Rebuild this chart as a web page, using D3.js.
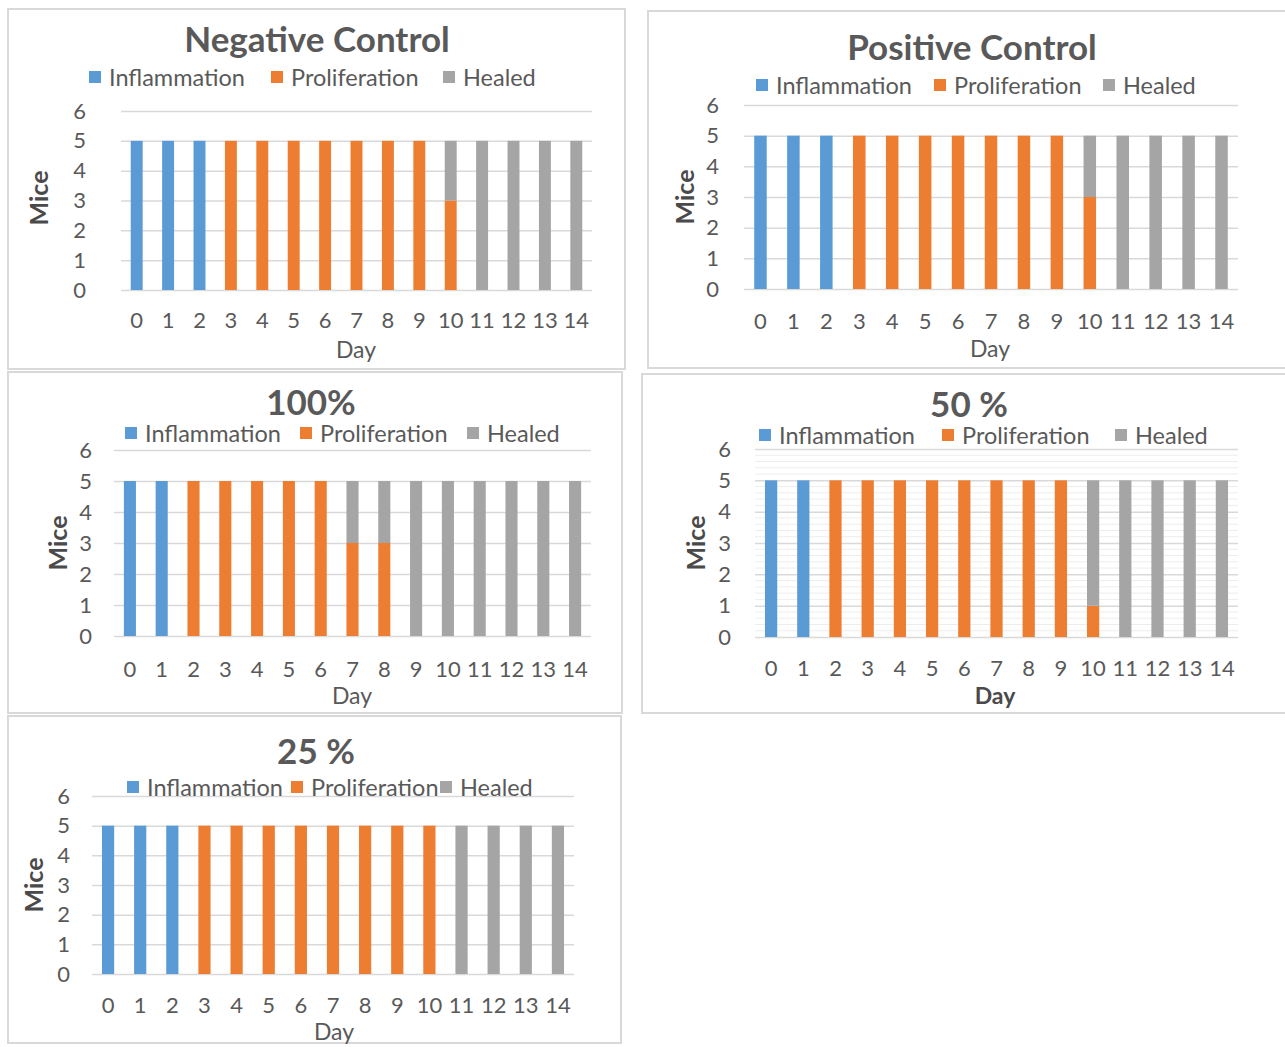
<!DOCTYPE html>
<html>
<head>
<meta charset="utf-8">
<script src="https://cdn.jsdelivr.net/npm/d3@7"></script>
<style>
  html, body { margin: 0; padding: 0; background: #ffffff; }
  svg { display: block; }
  text { font-family: Lato, "Open Sans", sans-serif; fill: #595959; }
</style>
</head>
<body>
<svg id="chart" width="1285" height="1047"></svg>
<script>
// ---------- DATA ----------
const days = ["0","1","2","3","4","5","6","7","8","9","10","11","12","13","14"];
const seriesNames = ["Inflammation", "Proliferation", "Healed"];
const yTicks = [0, 1, 2, 3, 4, 5, 6];

const negTitle = "Negative Control";
const negInflammation  = [5,5,5,0,0,0,0,0,0,0,0,0,0,0,0];
const negProliferation = [0,0,0,5,5,5,5,5,5,5,3,0,0,0,0];
const negHealed        = [0,0,0,0,0,0,0,0,0,0,2,5,5,5,5];

const posTitle = "Positive Control";
const posInflammation  = [5,5,5,0,0,0,0,0,0,0,0,0,0,0,0];
const posProliferation = [0,0,0,5,5,5,5,5,5,5,3,0,0,0,0];
const posHealed        = [0,0,0,0,0,0,0,0,0,0,2,5,5,5,5];

const p100Title = "100%";
const p100Inflammation  = [5,5,0,0,0,0,0,0,0,0,0,0,0,0,0];
const p100Proliferation = [0,0,5,5,5,5,5,3,3,0,0,0,0,0,0];
const p100Healed        = [0,0,0,0,0,0,0,2,2,5,5,5,5,5,5];

const p50Title = "50 %";
const p50Inflammation  = [5,5,0,0,0,0,0,0,0,0,0,0,0,0,0];
const p50Proliferation = [0,0,5,5,5,5,5,5,5,5,1,0,0,0,0];
const p50Healed        = [0,0,0,0,0,0,0,0,0,0,4,5,5,5,5];

const p25Title = "25 %";
const p25Inflammation  = [5,5,5,0,0,0,0,0,0,0,0,0,0,0,0];
const p25Proliferation = [0,0,0,5,5,5,5,5,5,5,5,0,0,0,0];
const p25Healed        = [0,0,0,0,0,0,0,0,0,0,0,5,5,5,5];

// ---------- STYLE / LAYOUT ----------
const colors = ["#5B9BD5", "#ED7D31", "#A5A5A5"];

const panels = [
  { title: negTitle, series: [negInflammation, negProliferation, negHealed],
    box: [8, 9, 625, 369], plot: [121, 592, 111, 290], titleXY: [317, 38],
    legendY: 77, legendX: [95, 277, 449], miceXY: [38, 198], dayXY: [356, 349],
    yPad: 35, xPad: 30, boldAxis: false, minor: false },
  { title: posTitle, series: [posInflammation, posProliferation, posHealed],
    box: [648, 11, 1286, 368], plot: [744, 1238, 105, 289], titleXY: [972, 46],
    legendY: 85, legendX: [762, 940, 1109], miceXY: [684, 197], dayXY: [990, 348],
    yPad: 25, xPad: 32, boldAxis: false, minor: false },
  { title: p100Title, series: [p100Inflammation, p100Proliferation, p100Healed],
    box: [8, 372, 622, 713], plot: [114, 591, 450, 636], titleXY: [311, 401],
    legendY: 433, legendX: [131, 306, 473], miceXY: [57, 543], dayXY: [352, 695],
    yPad: 22, xPad: 33, boldAxis: false, minor: false },
  { title: p50Title, series: [p50Inflammation, p50Proliferation, p50Healed],
    box: [642, 374, 1286, 713], plot: [755, 1238, 449, 637], titleXY: [969, 403],
    legendY: 435, legendX: [765, 948, 1121], miceXY: [695, 543], dayXY: [995, 695],
    yPad: 24, xPad: 31, boldAxis: true, minor: true },
  { title: p25Title, series: [p25Inflammation, p25Proliferation, p25Healed],
    box: [8, 716, 621, 1043], plot: [92, 574, 796, 974], titleXY: [316, 750],
    legendY: 787, legendX: [133, 297, 446], miceXY: [33, 885], dayXY: [334, 1031],
    yPad: 22, xPad: 31, boldAxis: false, minor: false }
];

const svg = d3.select("#chart");

panels.forEach(p => {
  const g = svg.append("g");
  const [bx0, by0, bx1, by1] = p.box;
  g.append("rect")
    .attr("x", bx0).attr("y", by0)
    .attr("width", bx1 - bx0).attr("height", by1 - by0)
    .attr("fill", "#ffffff").attr("stroke", "#D9D9D9").attr("stroke-width", 2);

  const [px0, px1, py0, py1] = p.plot;
  const x = d3.scaleBand().domain(days).range([px0, px1])
    .paddingInner(0.62).paddingOuter(0.31);
  const y = d3.scaleLinear().domain([0, 6]).range([py1, py0]);

  // minor gridlines
  if (p.minor) {
    const minorTicks = d3.range(0, 6.001, 0.2).filter(v => Math.abs(v - Math.round(v)) > 0.01);
    g.append("g").selectAll("line").data(minorTicks).join("line")
      .attr("x1", px0).attr("x2", px1)
      .attr("y1", d => y(d)).attr("y2", d => y(d))
      .attr("stroke", "#EDEDED").attr("stroke-width", 1);
  }

  // y axis with gridlines
  const yAxis = g.append("g").attr("transform", `translate(${px0},0)`)
    .call(d3.axisLeft(y).tickValues(yTicks).tickSize(-(px1 - px0)).tickPadding(p.yPad).tickFormat(d3.format("d")));
  yAxis.select(".domain").remove();
  yAxis.selectAll(".tick line").attr("stroke", "#D9D9D9").attr("stroke-width", 1.5);
  yAxis.selectAll(".tick text").style("font-size", "22px").style("font-family", "Lato, sans-serif").attr("fill", "#595959");

  // stacked bars
  const stackData = days.map((d, i) => {
    const o = { day: d };
    seriesNames.forEach((s, k) => { o[s] = p.series[k][i]; });
    return o;
  });
  const stacked = d3.stack().keys(seriesNames)(stackData);
  g.append("g").selectAll("g").data(stacked).join("g")
    .attr("fill", (d, k) => colors[k])
    .selectAll("rect").data(d => d.filter(v => v[1] - v[0] > 0)).join("rect")
      .attr("x", d => x(d.data.day))
      .attr("width", x.bandwidth())
      .attr("y", d => y(d[1]))
      .attr("height", d => y(d[0]) - y(d[1]));

  // x axis
  const xAxis = g.append("g").attr("transform", `translate(0,${py1})`)
    .call(d3.axisBottom(x).tickSize(0).tickPadding(p.xPad - 8));
  xAxis.select(".domain").remove();
  xAxis.selectAll(".tick text").style("font-size", "22px").style("font-family", "Lato, sans-serif").attr("fill", "#595959");

  // title
  g.append("text").attr("x", p.titleXY[0]).attr("y", p.titleXY[1])
    .attr("text-anchor", "middle").attr("dominant-baseline", "central")
    .style("font-size", "35px").style("font-weight", "bold").text(p.title);

  // legend
  seriesNames.forEach((s, k) => {
    const lx = p.legendX[k];
    g.append("rect").attr("x", lx - 6).attr("y", p.legendY - 6)
      .attr("width", 12).attr("height", 12).attr("fill", colors[k]);
    g.append("text").attr("x", lx + 14).attr("y", p.legendY)
      .attr("dominant-baseline", "central")
      .style("font-size", "23.5px").text(s);
  });

  // axis titles
  g.append("text")
    .attr("transform", `translate(${p.miceXY[0]},${p.miceXY[1]}) rotate(-90)`)
    .attr("text-anchor", "middle").attr("dominant-baseline", "central")
    .style("font-size", "25px").style("font-weight", "bold").style("fill", "#4a4a4a").text("Mice");
  g.append("text").attr("x", p.dayXY[0]).attr("y", p.dayXY[1])
    .attr("text-anchor", "middle").attr("dominant-baseline", "central")
    .style("font-size", "23px").style("font-weight", p.boldAxis ? "bold" : "normal")
    .style("fill", p.boldAxis ? "#4a4a4a" : "#595959").text("Day");
});
</script>
</body>
</html>
